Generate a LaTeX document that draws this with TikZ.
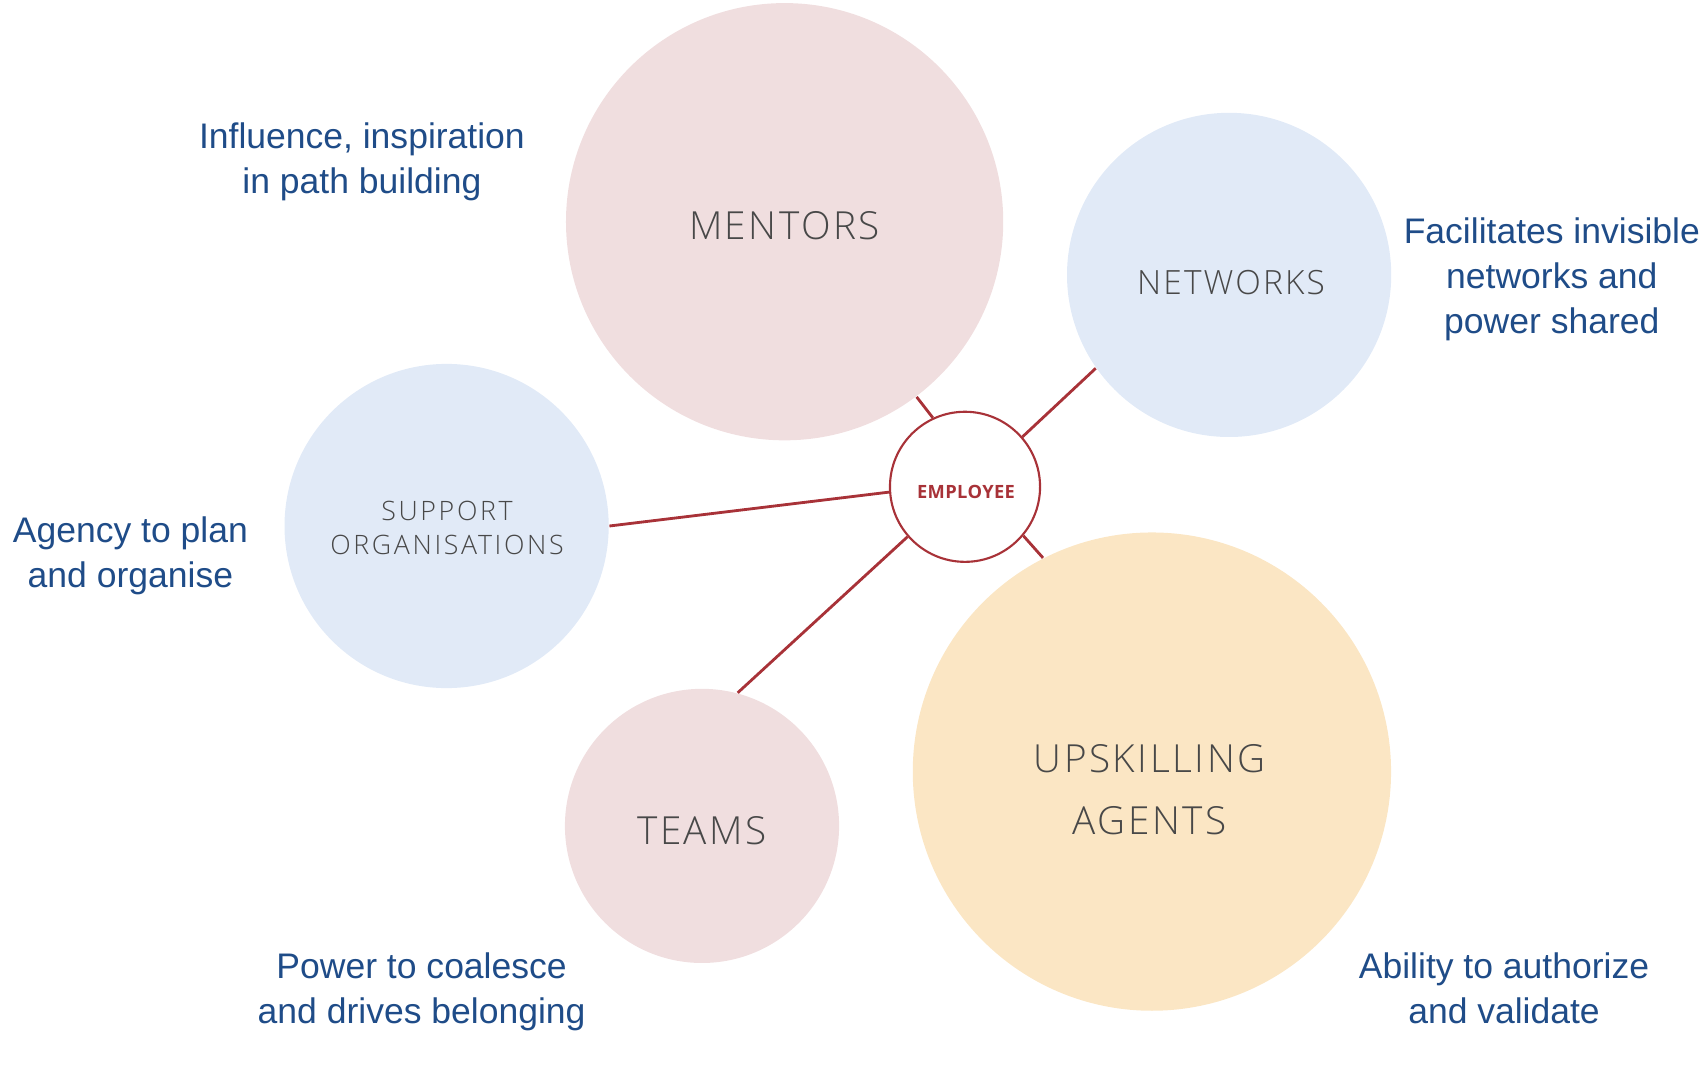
\documentclass[tikz,border=0pt]{standalone}
\usepackage{fontspec}
\usepackage{xcolor}
\usepackage{tikz}
\usetikzlibrary{positioning}
\setmainfont{Liberation Sans}
\newfontfamily\thinfont{Open Sans Light}[LetterSpace=6.5]
\newfontfamily\thinwidefont{Open Sans Light}[LetterSpace=10]
\newfontfamily\tagfont{Open Sans}[LetterSpace=2]
\definecolor{MentorPink}{RGB}{240,222,223}
\definecolor{NetBlue}{RGB}{225,234,247}
\definecolor{SkillYellow}{RGB}{251,230,196}
\definecolor{LinkRed}{RGB}{168,50,56}
\definecolor{NoteBlue}{RGB}{31,76,136}
\definecolor{LabelGray}{RGB}{72,72,72}

\begin{document}
\begin{tikzpicture}[
  x=0.01cm, y=-0.01cm,
  bubble/.style={
    circle,
    inner sep=0pt
  },
  caption/.style={
    align=center,
    inner sep=0pt,
    text=LabelGray
  },
  hub/.style={
    circle,
    draw=LinkRed,
    fill=white,
    line width=0.6pt,
    minimum size=1.5cm,
    inner sep=0pt
  },
  link/.style={draw=LinkRed, line width=0.8pt},
  note/.style={align=center, text=NoteBlue, font=\fontsize{10.1}{12.8}\selectfont}
]
\useasboundingbox (0,0) rectangle (1704,1064);

\node[bubble, fill=MentorPink, minimum size=4.37cm] (mentors) at (784.6,221.7) {};
\node[bubble, fill=NetBlue, minimum size=3.24cm] (networks) at (1229.1,274.9) {};
\node[bubble, fill=NetBlue, minimum size=3.24cm] (support) at (446.6,526.0) {};
\node[bubble, fill=MentorPink, minimum size=2.74cm] (teams) at (702.0,825.9) {};
\node[bubble, fill=SkillYellow, minimum size=4.78cm] (upskilling) at (1151.9,771.6) {};

\node[hub] (employee) at (965.0,486.8) {};
\node[text=LinkRed, inner sep=0pt, font=\tagfont\bfseries\fontsize{5.2}{6}\selectfont]
  (employeeText) at (966.0,492.0) {EMPLOYEE};

% captions inside the bubbles
\node[caption, font=\thinfont\fontsize{11}{13}\selectfont] (mentorsText) at (784.5,225.5) {MENTORS};
\node[caption, font=\thinfont\fontsize{9.5}{11}\selectfont] (networksText) at (1231,282.5) {NETWORKS};
\node[caption, font=\thinwidefont\fontsize{7.6}{9.7}\selectfont] (supportText) at (447,527.5) {SUPPORT\\ORGANISATIONS};
\node[caption, font=\thinfont\fontsize{11}{13}\selectfont] (teamsText) at (702,831) {TEAMS};
\node[caption, font=\thinfont\fontsize{11}{17.6}\selectfont] (upskillingText) at (1149.6,790) {UPSKILLING\\AGENTS};

% links from the employee
\draw[link] (employee.115.9) -- (mentors.-53);
\draw[link] (employee.41.7) -- (networks.215.1);
\draw[link] (employee.184.3) -- (support.0);
\draw[link] (employee.221.5) -- (teams.75.5);
\draw[link] (employee.-40.7) -- (upskilling.117.7);

% side notes
\node[note] (mentorsNote) at (361.9,162.0) {Influence, inspiration\\in path building};
\node[note] (networksNote) at (1551.8,279.2) {Facilitates invisible\\networks and\\power shared};
\node[note] (supportNote) at (130.4,555.5) {Agency to plan\\and organise};
\node[note] (teamsNote) at (421.6,992.0) {Power to coalesce\\and drives belonging};
\node[note] (upskillingNote) at (1504.0,988.3) {Ability to authorize\\and validate};
\end{tikzpicture}
\end{document}
